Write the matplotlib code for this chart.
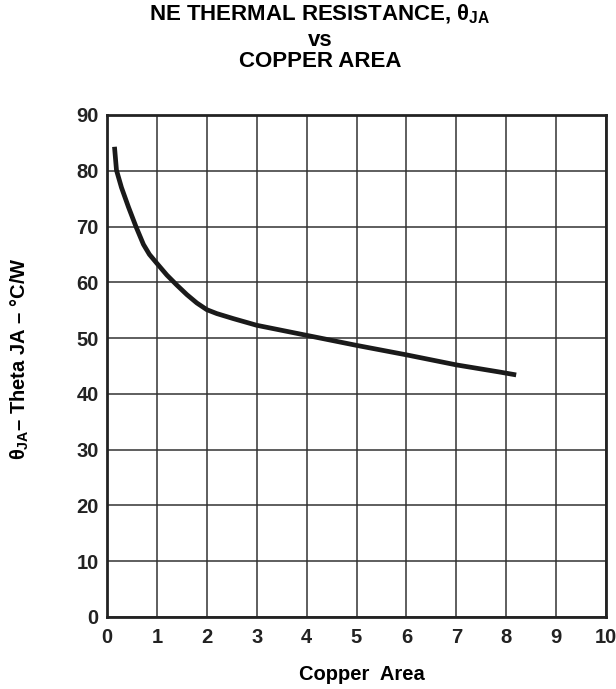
import matplotlib
matplotlib.use("Agg")
import matplotlib.pyplot as plt

plt.rcParams['font.family'] = ['Liberation Sans', 'DejaVu Sans']
plt.rcParams['font.weight'] = 'bold'
plt.rcParams['mathtext.fontset'] = 'custom'
plt.rcParams['mathtext.rm'] = 'Liberation Sans:bold'
plt.rcParams['mathtext.it'] = 'Liberation Sans:bold'
plt.rcParams['mathtext.bf'] = 'Liberation Sans:bold'

# Data
copper_area = [0.15, 0.19, 0.29, 0.43, 0.58, 0.73, 0.85, 1.0, 1.2, 1.4, 1.6, 1.8, 2.0, 2.2,
               2.53, 3.0, 3.5, 4.0, 5.0, 6.0, 7.0, 7.88, 8.2]
theta_ja = [84.3, 80.1, 77.0, 73.5, 70.0, 66.8, 65.0, 63.4, 61.3, 59.5, 57.8, 56.3, 55.1, 54.4,
            53.5, 52.3, 51.4, 50.5, 48.7, 47.0, 45.2, 43.9, 43.4]

x_ticks = [0, 1, 2, 3, 4, 5, 6, 7, 8, 9, 10]
y_ticks = [0, 10, 20, 30, 40, 50, 60, 70, 80, 90]

fig = plt.figure(figsize=(6.16, 6.89), dpi=100)
ax = fig.add_axes([107/616, 1-617/689, 499/616, 502/689])

ax.plot(copper_area, theta_ja, color='#1a1a1a', lw=3.4, solid_capstyle='butt',
        solid_joinstyle='round', zorder=3)

ax.set_xlim(0, 10)
ax.set_ylim(0, 90)
ax.set_xticks(x_ticks)
ax.set_yticks(y_ticks)
ax.set_xticklabels([str(t) for t in x_ticks], fontsize=14.5, fontweight='bold')
ax.set_yticklabels([str(t) for t in y_ticks], fontsize=14.5, fontweight='bold')
ax.tick_params(axis='y', length=0, pad=6, colors='#222222')
ax.tick_params(axis='x', length=0, pad=8, colors='#222222')
ax.grid(True, color='#333333', lw=1.1)
for s in ax.spines.values():
    s.set_linewidth(2.0)
    s.set_color('#222222')

tx = 320/616
fig.text(tx, 1-20/689, r'NE THERMAL RESISTANCE, $\theta_{JA}$', ha='center', va='baseline',
         fontsize=16, fontweight='bold')
fig.text(tx, 1-46/689, 'vs', ha='center', va='baseline', fontsize=16, fontweight='bold')
fig.text(tx, 1-67/689, 'COPPER AREA', ha='center', va='baseline', fontsize=16, fontweight='bold')

fig.text(362/616, 1-675/689, 'Copper  Area', ha='center', va='center', fontsize=14.5, fontweight='bold')
fig.text(20/616, 1-359/689, r'$\theta_{JA}$– Theta JA – °C/W', ha='center', va='center',
         rotation=90, fontsize=14.5, fontweight='bold')

fig.savefig('out.png', dpi=100)
